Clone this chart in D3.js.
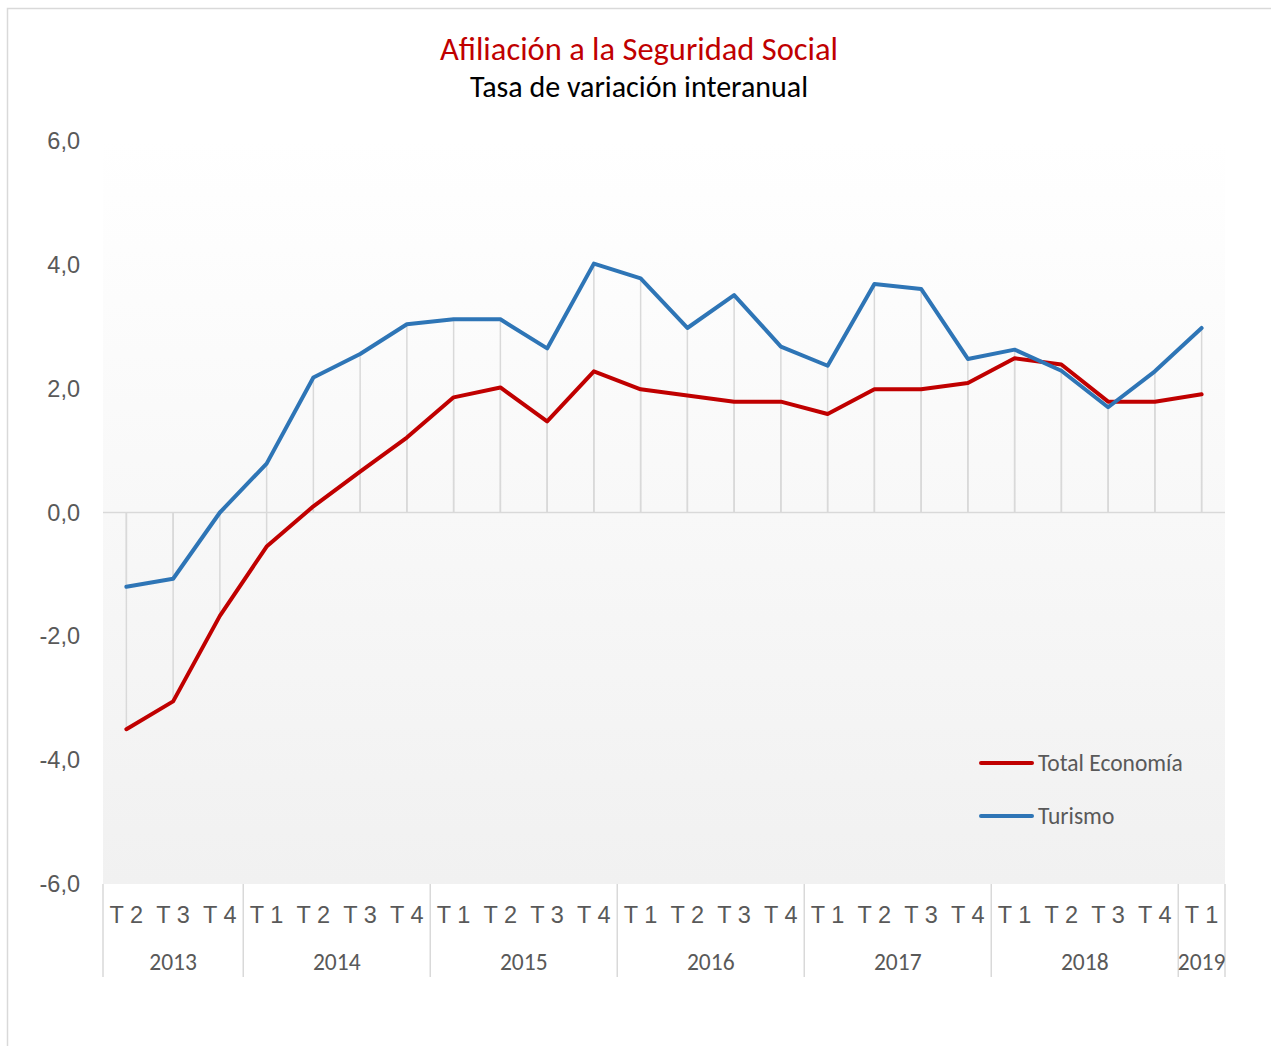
<!DOCTYPE html>
<html>
<head>
<meta charset="utf-8">
<script src="https://cdn.jsdelivr.net/npm/d3@7"></script>
<style>
  body { margin: 0; background: #fff; }
  svg { display: block; font-family: Carlito, Lato, "Liberation Sans", sans-serif; }
</style>
</head>
<body>
<svg id="chart" width="1271" height="1046"></svg>
<script>
const periods = ['2013 T 2', '2013 T 3', '2013 T 4',
  '2014 T 1', '2014 T 2', '2014 T 3', '2014 T 4',
  '2015 T 1', '2015 T 2', '2015 T 3', '2015 T 4',
  '2016 T 1', '2016 T 2', '2016 T 3', '2016 T 4',
  '2017 T 1', '2017 T 2', '2017 T 3', '2017 T 4',
  '2018 T 1', '2018 T 2', '2018 T 3', '2018 T 4',
  '2019 T 1']
const years = ['2013', '2014', '2015', '2016', '2017', '2018', '2019']
const totalEconomia = [-3.5, -3.05, -1.67, -0.55, 0.1, 0.66, 1.21, 1.86, 2.02, 1.47, 2.28,
  1.99, 1.89, 1.79, 1.79, 1.59, 1.99, 1.99, 2.09, 2.49, 2.39, 1.79, 1.79, 1.91]
const turismo = [-1.2, -1.07, 0.0, 0.79, 2.18, 2.56, 3.04, 3.12, 3.12, 2.65, 4.02,
  3.78, 2.98, 3.51, 2.68, 2.37, 3.69, 3.61, 2.48, 2.63, 2.29, 1.7, 2.28, 2.98]
const yTicks = [-6, -4, -2, 0, 2, 4, 6]

const series = [
  { name: 'Total Economía', values: totalEconomia, color: '#c00000' },
  { name: 'Turismo', values: turismo, color: '#2e75b6' }
]

const svg = d3.select('#chart')
const plotLeft = 103, plotRight = 1225, plotTop = 141, plotBottom = 884
const grid = '#d9d9d9'
const textColor = '#595959'
const labelSize = 23.5

// outer chart frame
svg.append('rect')
  .attr('x', 7.5).attr('y', 8.5)
  .attr('width', 1300).attr('height', 1100)
  .attr('fill', '#fff').attr('stroke', grid).attr('stroke-width', 1.5)

const grad = svg.append('defs').append('linearGradient')
  .attr('id', 'bg').attr('x1', 0).attr('y1', 0).attr('x2', 0).attr('y2', 1)
grad.append('stop').attr('offset', '0%').attr('stop-color', '#ffffff')
grad.append('stop').attr('offset', '100%').attr('stop-color', '#f1f1f1')

const x = d3.scaleBand().domain(periods).range([plotLeft, plotRight]).padding(0)
const y = d3.scaleLinear().domain([-6, 6]).range([plotBottom, plotTop])
const cx = p => x(p) + x.bandwidth() / 2

svg.append('rect')
  .attr('x', plotLeft).attr('y', plotTop)
  .attr('width', plotRight - plotLeft).attr('height', plotBottom - plotTop)
  .attr('fill', 'url(#bg)')

// titles
svg.append('text')
  .attr('x', 639).attr('y', 60).attr('text-anchor', 'middle')
  .attr('font-size', 32.5).attr('fill', '#c00000')
  .text('Afiliación a la Seguridad Social')
svg.append('text')
  .attr('x', 639).attr('y', 97).attr('text-anchor', 'middle')
  .attr('font-size', 30).attr('fill', '#000')
  .text('Tasa de variación interanual')

// drop lines from each point to the zero line
series.forEach(s => {
  svg.append('g').selectAll('line')
    .data(periods)
    .join('line')
      .attr('x1', d => cx(d)).attr('x2', d => cx(d))
      .attr('y1', y(0))
      .attr('y2', (d, i) => y(s.values[i]))
      .attr('stroke', grid).attr('stroke-width', 1.5)
})

// zero line
svg.append('line')
  .attr('x1', plotLeft).attr('x2', plotRight)
  .attr('y1', y(0)).attr('y2', y(0))
  .attr('stroke', grid).attr('stroke-width', 1.5)

// y axis labels
const yAxis = svg.append('g')
  .attr('transform', `translate(${plotLeft},0)`)
  .call(d3.axisLeft(y).tickValues(yTicks).tickSize(0).tickPadding(23)
    .tickFormat(d => d3.format('.1f')(d).replace('.', ',').replace('−', '-')))
yAxis.select('.domain').remove()
yAxis.selectAll('text')
  .attr('font-size', labelSize).attr('fill', textColor).attr('font-family', null)

// quarter labels
const xAxis = svg.append('g')
  .attr('transform', `translate(0,${plotBottom})`)
  .call(d3.axisBottom(x).tickSize(0).tickPadding(22).tickFormat(d => d.slice(5)))
xAxis.select('.domain').remove()
xAxis.selectAll('text')
  .attr('font-size', labelSize).attr('fill', textColor).attr('font-family', null)

// year groups and separators
const groups = years.map(yr => {
  const ps = periods.filter(p => p.startsWith(yr))
  return { year: yr, x0: x(ps[0]), x1: x(ps[ps.length - 1]) + x.bandwidth() }
})
svg.append('g').selectAll('line')
  .data([plotLeft, ...groups.map(g => g.x1)])
  .join('line')
    .attr('x1', d => d).attr('x2', d => d)
    .attr('y1', plotBottom).attr('y2', 977)
    .attr('stroke', grid).attr('stroke-width', 1.5)
svg.append('g').selectAll('text')
  .data(groups)
  .join('text')
    .attr('x', g => (g.x0 + g.x1) / 2)
    .attr('y', 970)
    .attr('text-anchor', 'middle')
    .attr('font-size', labelSize).attr('fill', textColor)
    .text(g => g.year)

// series lines
const line = d3.line()
  .x((d, i) => cx(periods[i]))
  .y(d => y(d))
series.forEach(s => {
  svg.append('path')
    .datum(s.values)
    .attr('d', line)
    .attr('fill', 'none')
    .attr('stroke', s.color)
    .attr('stroke-width', 4)
    .attr('stroke-linejoin', 'round')
    .attr('stroke-linecap', 'round')
})

// legend
const legend = svg.append('g').selectAll('g')
  .data(series)
  .join('g')
    .attr('transform', (d, i) => `translate(981,${763 + i * 53})`)
legend.append('line')
  .attr('x1', 0).attr('x2', 51)
  .attr('stroke', d => d.color).attr('stroke-width', 4)
  .attr('stroke-linecap', 'round')
legend.append('text')
  .attr('x', 57).attr('y', 8)
  .attr('font-size', labelSize).attr('fill', textColor)
  .text(d => d.name)
</script>
</body>
</html>
